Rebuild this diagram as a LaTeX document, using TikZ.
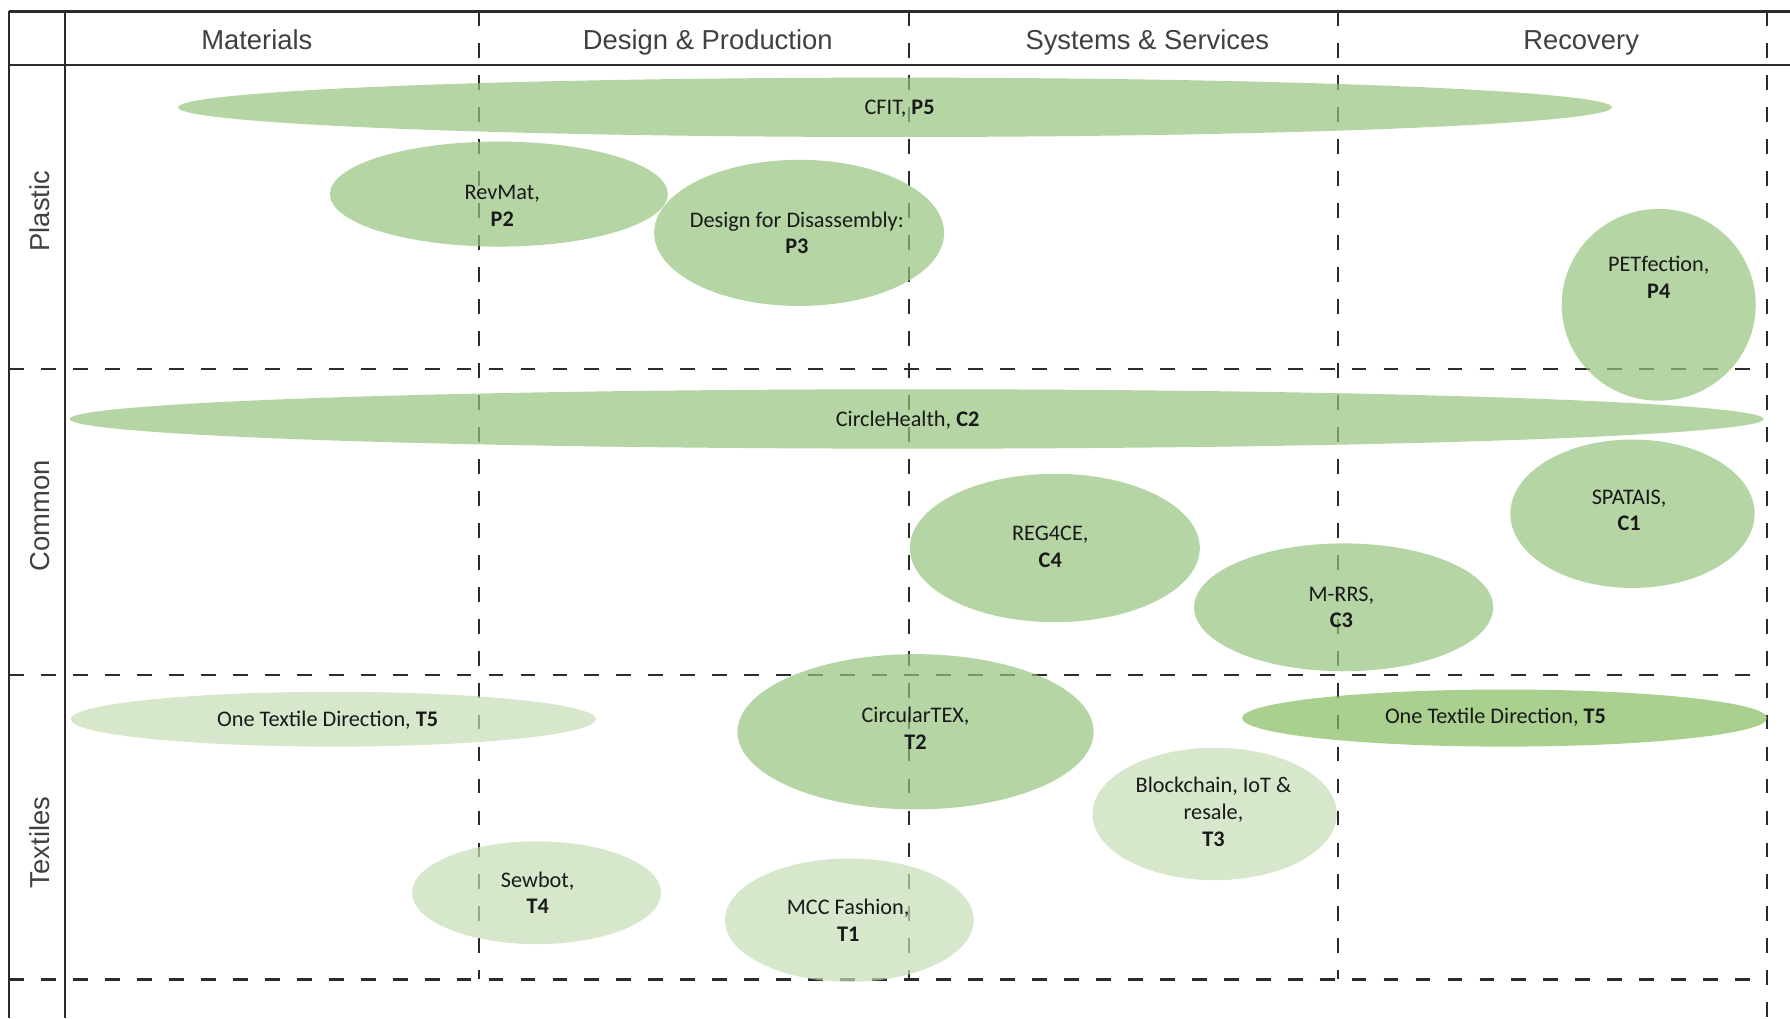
\documentclass[tikz,border=0pt]{standalone}
\usepackage{fontspec}
\setmainfont{Carlito}
\newfontfamily\headfont{Liberation Sans}
\usetikzlibrary{shapes.geometric}
\definecolor{Ink}{HTML}{2B2B2B}
\definecolor{Mid}{RGB}{149,196,126}
\definecolor{Pale}{RGB}{196,221,182}
\definecolor{Deep}{RGB}{132,188,94}
\tikzset{
    frame/.style={line width=2.2pt, color=Ink},
    grid/.style={line width=1.8pt, color=Ink, dash pattern=on 13pt off 15pt},
    blob/.style={ellipse, inner sep=0pt, draw=none, fill=#1, fill opacity=0.7},
    blob/.default=Mid,
    tag/.style={align=center, text=black!90, font=\fontsize{19.5}{23.5}\selectfont},
    colhead/.style={anchor=base, text=Ink!90, font=\headfont\fontsize{24}{28}\selectfont},
    rowhead/.style={text=Ink!90, font=\headfont\fontsize{24}{28}\selectfont, rotate=90},
}

\begin{document}
\begin{tikzpicture}[x=1pt, y=1pt]
    \useasboundingbox (0,0) rectangle (1568,-892);

    % Frame and header band
    \draw[frame] (8,-10) -- (1568,-10);
    \draw[frame] (8,-57) -- (1568,-57);
    \draw[frame] (8,-10) -- (8,-892);
    \draw[frame] (57,-10) -- (57,-892);

    % Column and row separators
    \foreach \x in {420,796,1172}
        \draw[grid] (\x,-10) -- (\x,-858);
    \draw[grid] (1548,-10) -- (1548,-892);
    \foreach \y in {323,591,858}
        \draw[grid] (8,-\y) -- (1546,-\y);

    % Headers
    \node[colhead] (hmat) at (225,-43) {Materials};
    \node[colhead] (hdes) at (620,-43) {Design \& Production};
    \node[colhead] (hsys) at (1005,-43) {Systems \& Services};
    \node[colhead] (hrec) at (1385,-43) {Recovery};
    \node[rowhead] (rpla) at (35,-185) {Plastic};
    \node[rowhead] (rcom) at (35,-452) {Common};
    \node[rowhead] (rtex) at (35,-738) {Textiles};

    % Plastic
    \node[blob, minimum width=1256pt, minimum height=52pt] (cfit) at (784,-94) {};
    \node[blob, minimum width=296pt, minimum height=92pt] (revmat) at (437,-170) {};
    \node[blob, minimum width=254pt, minimum height=128pt] (dfd) at (700,-204) {};
    \node[blob, minimum width=170pt, minimum height=168pt] (petf) at (1453,-267) {};
    \node[tag] (cfit-t) at (788,-95) {CFIT, \textbf{P5}};
    \node[tag] (revmat-t) at (440,-180) {RevMat,\\\textbf{P2}};
    \node[tag] (dfd-t) at (698,-204) {Design for Disassembly:\\\textbf{P3}};
    \node[tag] (petf-t) at (1453,-243) {PETfection,\\\textbf{P4}};

    % Common
    \node[blob, minimum width=1484pt, minimum height=52pt] (chealth) at (803,-367) {};
    \node[blob, minimum width=214pt, minimum height=130pt] (spatais) at (1430,-450) {};
    \node[blob, minimum width=254pt, minimum height=130pt] (reg) at (924,-480) {};
    \node[blob, minimum width=262pt, minimum height=112pt] (mrrs) at (1177,-532) {};
    \node[tag] (chealth-t) at (795,-368) {CircleHealth, \textbf{C2}};
    \node[tag] (spatais-t) at (1427,-447) {SPATAIS,\\\textbf{C1}};
    \node[tag] (reg-t) at (920,-479) {REG4CE,\\\textbf{C4}};
    \node[tag] (mrrs-t) at (1175,-532) {M-RRS,\\\textbf{C3}};

    % Textiles
    \node[blob=Pale, minimum width=460pt, minimum height=48pt] (otdl) at (292,-630) {};
    \node[blob, minimum width=312pt, minimum height=136pt] (ctex) at (802,-641) {};
    \node[blob=Deep, minimum width=460pt, minimum height=50pt] (otdr) at (1318,-629) {};
    \node[blob=Pale, minimum width=214pt, minimum height=116pt] (chain) at (1064,-713) {};
    \node[blob=Pale, minimum width=218pt, minimum height=90pt] (sewbot) at (470,-782) {};
    \node[blob=Pale, minimum width=218pt, minimum height=108pt] (mcc) at (744,-806) {};
    \node[tag] (otdl-t) at (287,-631) {One Textile Direction, \textbf{T5}};
    \node[tag] (ctex-t) at (802,-638) {CircularTEX,\\\textbf{T2}};
    \node[tag] (otdr-t) at (1310,-628) {One Textile Direction, \textbf{T5}};
    \node[tag] (chain-t) at (1063,-711) {Blockchain, IoT \&\\resale,\\\textbf{T3}};
    \node[tag] (sewbot-t) at (471,-782) {Sewbot,\\\textbf{T4}};
    \node[tag] (mcc-t) at (743,-806) {MCC Fashion,\\\textbf{T1}};
\end{tikzpicture}
\end{document}
